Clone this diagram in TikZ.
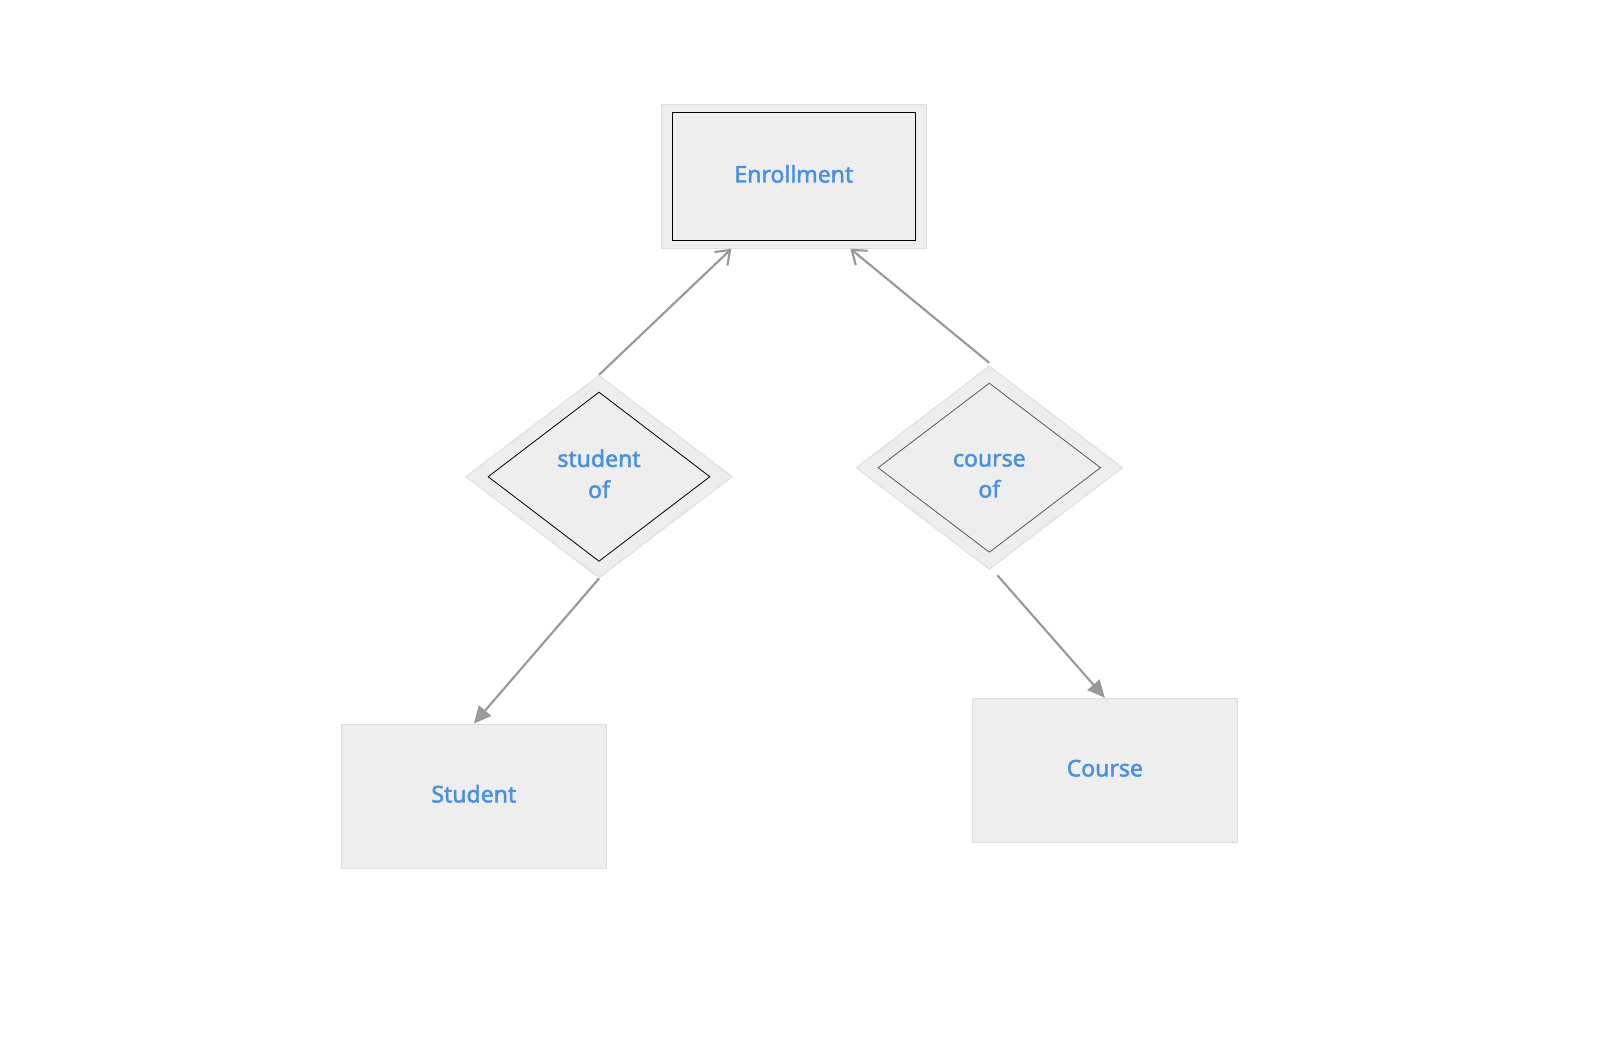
\documentclass[tikz,border=0pt]{standalone}
\usepackage{fontspec}
\setmainfont{Noto Sans}
\newfontfamily\erfont{Noto Sans}[FakeBold=2]
\usetikzlibrary{arrows.meta,shapes.geometric}
\definecolor{boxfill}{HTML}{EEEEEE}
\definecolor{boxline}{HTML}{DEDEDE}
\definecolor{labelblue}{HTML}{4A90E2}
\definecolor{linkgray}{HTML}{999999}
\definecolor{framegray}{HTML}{5A5A5A}

\begin{document}
\begin{tikzpicture}[x=0.75pt, y=-0.75pt,
  txt/.style={text=labelblue, font=\erfont\fontsize{17.25}{23.25}\selectfont, align=center,
    execute at begin node=\strut},
  entity/.style={rectangle, fill=boxfill, draw=boxline, line width=0.75pt,
    minimum width=199pt, minimum height=108pt, inner sep=0pt},
  relation/.style={diamond, fill=boxfill, draw=boxline, line width=0.75pt,
    minimum width=200pt, minimum height=152pt, inner sep=0pt},
  frame/.style={line width=0.6pt, inner sep=0pt},
  link/.style={draw=linkgray, line width=1.6pt},
  up/.style={link, -{Straight Barb[length=9.5pt,width=14pt,line width=1.6pt]}},
  down/.style={link, -{Triangle[length=13pt,width=12pt]}}
]
\useasboundingbox (0,0) rectangle (1603,1045);

% entities
\node[entity] (enr) at (793.8,176.3) {};
\node[frame, rectangle, draw=black, minimum width=182.5pt, minimum height=95.5pt, txt]
  (enrin) at (enr) {Enrollment};
\node[entity, txt] (stu) at (473.8,796.2) {Student};
\node[entity, txt] (crs) at (1104.8,770.2) {Course};

% relations
\node[relation] (sof) at (599,476.7) {};
\node[frame, diamond, draw=black, minimum width=166.5pt, minimum height=127pt]
  (sofin) at (sof) {};
\node[txt] (softxt) at ([yshift=-1.2pt]sof) {student\\\strut of};
\node[relation, minimum height=152.5pt] (cof) at (989.3,467.7) {};
\node[frame, diamond, draw=framegray, minimum width=167pt, minimum height=127pt]
  (cofin) at (cof) {};
\node[txt] (coftxt) at ([yshift=-9.5pt]cof) {course\\\strut of};

% links
\draw[up] (sof.north) -- ([xshift=-46.8pt]enr.south);
\draw[up] ([yshift=2pt]cof.north) -- ([xshift=42.5pt]enr.south);
\draw[down] (sof.south) -- (stu.north);
\draw[down] ([xshift=6pt,yshift=-4pt]cof.south) -- (crs.north);
\end{tikzpicture}
\end{document}
